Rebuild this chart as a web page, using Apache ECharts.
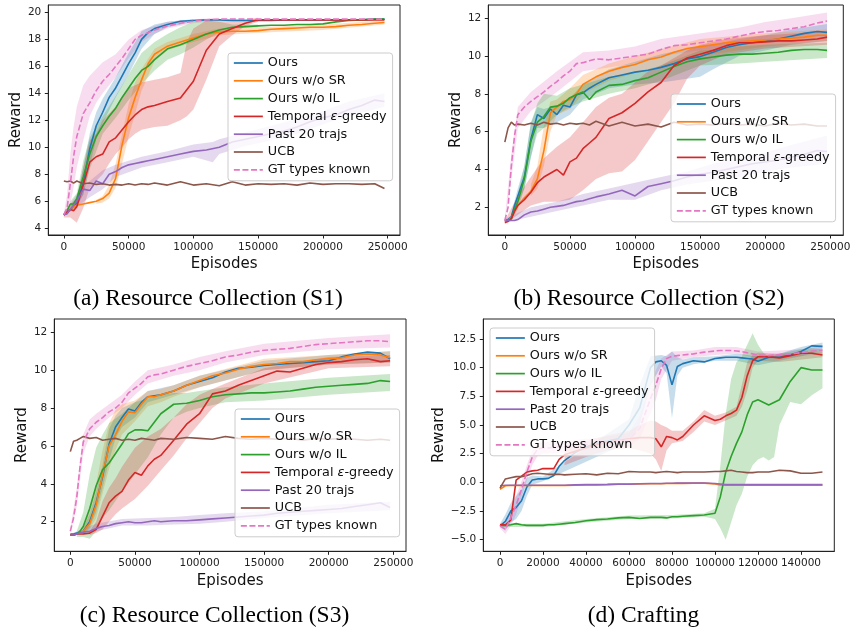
<!DOCTYPE html>
<html><head><meta charset="utf-8">
<script src="https://cdn.jsdelivr.net/npm/echarts@6/dist/echarts.min.js"></script>
<style>html,body{margin:0;padding:0;background:#fff}#c{width:850px;height:628px}</style>
</head><body><div id="c"></div>
<script>
// ---------- data ----------
const names = ['Ours','Ours w/o SR','Ours w/o IL','Temporal ε-greedy','Past 20 trajs','UCB','GT types known'];
const captions = ['(a) Resource Collection (S1)','(b) Resource Collection (S2)','(c) Resource Collection (S3)','(d) Crafting'];
const xTicksRC = [0,50000,100000,150000,200000,250000];
const xTicksD = [0,20000,40000,60000,80000,100000,120000,140000];
const yTicksA = [4,6,8,10,12,14,16,18,20];
const yTicksBC = [2,4,6,8,10,12];
const yTicksD = [-5,-2.5,0,2.5,5,7.5,10,12.5];

const xABC = [0,2500,5000,7500,10000,15000,20000,25000,30000,35000,40000,45000,50000,55000,60000,65000,70000,80000,90000,100000,110000,120000,130000,140000,150000,160000,170000,180000,190000,200000,210000,220000,230000,240000,247500];

// (a) S1
const oursA = [5.0,5.1,5.4,5.6,5.9,7.4,9.9,11.6,12.6,13.7,14.4,15.3,16.2,17.0,18.0,18.5,18.8,19.1,19.35,19.4,19.45,19.45,19.4,19.4,19.4,19.4,19.45,19.45,19.45,19.45,19.45,19.45,19.45,19.5,19.5];
const noSRA = [5.0,5.2,5.4,5.6,5.7,5.8,5.9,6.0,6.2,6.6,7.7,10.2,12.2,13.7,15.0,16.2,16.9,17.5,17.8,18.1,18.4,18.55,18.6,18.6,18.65,18.75,18.8,18.85,18.9,18.9,18.95,19.05,19.1,19.2,19.25];
const noILA = [5.0,5.3,5.8,5.8,6.2,7.8,9.5,10.8,11.6,12.3,12.9,13.7,14.4,15.1,15.7,16.0,16.5,17.3,17.6,18.0,18.4,18.7,18.9,18.95,19.0,19.05,19.05,19.1,19.1,19.15,19.3,19.4,19.45,19.5,19.5];
const tempA = [5.0,5.2,5.4,5.3,5.6,7.2,8.9,9.3,9.5,10.4,10.7,11.3,11.9,12.4,12.8,13.0,13.1,13.4,13.65,14.9,17.2,18.4,18.8,19.2,19.45,19.45,19.45,19.45,19.45,19.45,19.45,19.45,19.45,19.45,19.45];
const pastA = [5.0,5.1,5.4,5.7,6.0,6.9,6.8,7.5,7.3,8.0,8.2,8.5,8.7,8.8,8.9,9.0,9.1,9.3,9.5,9.7,9.8,10.0,10.4,10.6,10.8,11.0,11.2,11.5,11.9,12.2,12.4,12.8,13.1,13.5,13.4];
const ucbA = [7.5,7.45,7.5,7.35,7.5,7.3,7.35,7.25,7.3,7.2,7.25,7.2,7.3,7.2,7.3,7.25,7.35,7.2,7.45,7.2,7.3,7.15,7.45,7.2,7.3,7.25,7.3,7.2,7.35,7.25,7.3,7.3,7.25,7.3,6.95];
const gtA = [5.0,5.5,7.3,9.3,10.8,12.5,13.3,14.2,14.9,15.4,16.0,16.6,17.3,18.0,18.3,18.5,18.7,19.0,19.2,19.35,19.45,19.5,19.5,19.5,19.5,19.5,19.5,19.5,19.5,19.5,19.5,19.5,19.5,19.5,19.5];

// (b) S2
const oursB = [1.3,1.35,1.5,2.1,2.6,3.6,5.6,6.9,6.7,7.2,6.9,7.4,7.3,7.95,8.05,8.3,8.5,8.85,9.0,9.15,9.25,9.4,9.6,9.85,9.97,10.2,10.45,10.6,10.7,10.8,10.9,11.05,11.2,11.3,11.25];
const noSRB = [1.3,1.3,1.45,1.8,2.1,2.5,2.85,3.5,5.0,7.0,7.3,7.6,7.7,8.0,8.5,8.7,8.9,9.2,9.4,9.55,9.8,9.95,10.2,10.4,10.5,10.6,10.7,10.75,10.8,10.85,10.9,10.95,11.0,11.1,11.1];
const noILB = [1.3,1.3,1.4,1.9,2.3,3.5,5.5,6.5,6.8,7.3,7.35,7.5,7.8,7.95,8.1,7.7,8.1,8.45,8.5,8.7,8.85,9.15,9.45,9.7,9.85,9.95,10.05,10.1,10.1,10.15,10.2,10.3,10.35,10.35,10.3];
const tempB = [1.2,1.25,1.4,1.8,2.1,2.4,2.8,3.3,3.6,3.8,4.0,3.7,4.4,4.6,5.1,5.4,5.7,6.7,7.0,7.5,8.1,8.6,9.5,9.9,10.1,10.3,10.55,10.7,10.7,10.75,10.8,10.8,10.85,10.9,11.0];
const pastB = [1.3,1.3,1.3,1.3,1.35,1.6,1.75,1.8,1.9,2.0,2.05,2.1,2.2,2.3,2.35,2.45,2.55,2.7,2.9,2.6,3.1,3.25,3.4,3.6,3.75,3.85,4.0,4.15,4.3,4.4,4.5,4.65,4.8,5.0,4.95];
const ucbB = [5.45,6.2,6.5,6.35,6.4,6.35,6.45,6.35,6.5,6.4,6.45,6.35,6.45,6.4,6.45,6.35,6.55,6.3,6.5,6.3,6.4,6.25,6.5,6.35,6.4,6.35,6.45,6.35,6.4,6.3,6.45,6.35,6.4,6.3,6.3];
const gtB = [1.3,2.0,4.2,5.8,6.9,7.3,7.6,7.85,8.1,8.4,8.65,8.95,9.2,9.6,9.65,9.75,9.85,9.8,9.9,10.0,10.1,10.35,10.55,10.6,10.7,10.8,10.9,11.05,11.2,11.3,11.35,11.45,11.55,11.75,11.85];

// (c) S3
const oursC = [1.35,1.35,1.4,1.45,1.5,2.0,3.0,4.4,6.1,7.0,7.5,7.95,7.85,8.3,8.6,8.65,8.7,8.9,9.2,9.4,9.6,9.9,10.1,10.15,10.25,10.3,10.35,10.4,10.45,10.5,10.7,10.85,10.95,10.9,10.6];
const noSRC = [1.3,1.3,1.35,1.45,1.5,1.9,2.9,4.5,6.0,6.6,7.3,7.8,7.75,8.2,8.6,8.6,8.7,8.9,9.2,9.45,9.7,9.85,10.05,10.2,10.3,10.35,10.45,10.45,10.55,10.6,10.65,10.8,10.85,10.8,10.65];
const noILC = [1.3,1.3,1.35,1.5,1.75,2.7,3.9,4.75,5.1,5.6,6.1,6.65,6.85,6.85,6.8,7.25,7.7,8.2,8.25,8.4,8.6,8.7,8.75,8.8,8.8,8.85,8.9,9.0,9.1,9.15,9.2,9.25,9.3,9.45,9.4];
const tempC = [1.3,1.3,1.35,1.35,1.35,1.4,1.6,2.3,3.0,3.35,3.6,4.2,4.6,4.45,4.95,5.3,5.5,6.3,7.15,7.7,8.75,8.9,9.2,9.45,9.7,9.95,9.9,10.1,10.3,10.4,10.45,10.55,10.6,10.45,10.5];
const pastC = [1.3,1.3,1.35,1.4,1.45,1.5,1.65,1.75,1.8,1.9,1.95,2.0,1.95,1.95,2.0,2.05,2.0,2.05,2.05,2.1,2.15,2.2,2.25,2.3,2.35,2.45,2.5,2.55,2.6,2.65,2.7,2.8,2.9,3.0,2.75];
const ucbC = [5.7,6.25,6.3,6.4,6.5,6.4,6.45,6.3,6.35,6.4,6.3,6.35,6.3,6.4,6.35,6.3,6.4,6.35,6.45,6.4,6.35,6.5,6.4,6.35,6.4,6.35,6.4,6.3,6.4,6.35,6.4,6.35,6.3,6.35,6.3];
const gtC = [1.5,2.2,3.3,4.9,6.2,6.9,7.25,7.5,7.8,8.0,8.3,8.8,9.05,9.3,9.65,9.75,9.8,10.0,10.2,10.35,10.5,10.7,10.8,10.95,11.05,11.1,11.15,11.25,11.35,11.4,11.45,11.5,11.55,11.55,11.5];

// (d) Crafting
const xD = [0,2500,5000,7500,10000,12500,15000,17500,20000,22500,25000,27500,30000,35000,40000,45000,50000,55000,60000,65000,70000,72500,75000,77500,80000,82500,85000,90000,95000,100000,102500,105000,107500,110000,112500,115000,117500,120000,125000,130000,135000,140000,145000,150000];
const oursD = [-3.8,-3.4,-2.5,-2.2,-1.6,-0.4,0.2,0.3,0.3,0.35,0.6,1.4,1.9,2.6,3.1,3.4,3.6,3.8,5.0,6.5,10.0,10.5,10.6,10.2,8.5,10.1,10.35,10.6,10.5,10.8,10.85,10.9,10.9,10.9,10.85,10.8,10.75,10.55,10.9,10.9,11.1,11.4,11.9,11.85];
const noSRD = [-0.6,-0.3,-0.27,-0.27,-0.27,-0.27,-0.27,-0.27,-0.27,-0.27,-0.27,-0.27,-0.27,-0.24,-0.22,-0.22,-0.2,-0.17,-0.17,-0.14,-0.12,-0.12,-0.12,-0.1,-0.1,-0.09,-0.09,-0.07,-0.07,-0.15,-0.22,-0.25,-0.25,-0.25,-0.25,-0.25,-0.25,-0.25,-0.25,-0.25,-0.25,-0.25,-0.25,-0.25];
const noILD = [-3.75,-3.75,-3.7,-3.6,-3.7,-3.75,-3.75,-3.75,-3.75,-3.7,-3.7,-3.65,-3.6,-3.5,-3.35,-3.25,-3.2,-3.1,-3.05,-3.15,-3.05,-3.05,-3.05,-3.1,-3.0,-3.0,-2.95,-2.9,-2.85,-2.7,-1.25,0.9,2.25,3.4,4.4,5.9,7.0,7.2,6.75,7.2,8.8,10.0,9.8,9.8];
const tempD = [-3.7,-3.7,-3.3,0.2,0.55,0.9,1.0,1.05,1.2,1.2,1.2,2.0,2.4,2.7,3.0,3.3,3.5,3.65,3.8,3.9,3.9,3.8,3.1,4.0,3.9,3.7,4.0,5.0,5.8,5.4,5.5,5.8,6.0,6.3,7.4,9.3,10.6,10.95,10.95,10.85,11.05,11.25,11.25,11.1];
const pastD = [-0.3,-0.25,-0.25,-0.25,-0.25,-0.25,-0.25,-0.25,-0.25,-0.25,-0.25,-0.25,-0.25,-0.22,-0.2,-0.2,-0.18,-0.15,-0.15,-0.12,-0.1,-0.1,-0.1,-0.08,-0.08,-0.07,-0.07,-0.05,-0.05,-0.1,-0.15,-0.2,-0.2,-0.2,-0.2,-0.2,-0.2,-0.2,-0.2,-0.2,-0.2,-0.2,-0.2,-0.2];
const ucbD = [-0.5,0.3,0.4,0.5,0.5,0.6,0.75,0.8,0.75,0.7,0.7,0.7,0.65,0.7,0.75,0.65,0.8,0.75,0.95,0.9,0.9,0.85,0.9,0.95,0.9,0.85,0.9,0.9,0.9,0.95,0.95,1.0,1.05,0.95,0.9,0.85,0.85,0.9,0.9,1.05,1.0,0.8,0.8,0.9];
const gtD = [-3.8,-4.1,-3.1,-2.0,-0.6,0.9,2.2,2.9,3.0,3.0,3.05,3.1,3.1,3.2,3.3,3.4,3.5,3.6,3.7,4.7,7.3,8.5,9.9,10.8,11.0,11.05,11.1,11.2,11.35,11.45,11.5,11.5,11.5,11.45,11.4,11.3,11.2,11.1,11.05,11.15,11.2,11.3,11.45,11.5];

// shaded spread bands (m = method index)
const bandsA = [
 {m:6, x:[0,2500,5000,7500,10000,15000,20000,25000,30000,40000,50000,60000,70000,80000,100000,120000], lo:[4.9,5.0,5.8,7.0,8.5,10.5,12.3,13.3,14.0,15.2,16.6,17.8,18.4,18.8,19.2,19.4], hi:[5.1,6.5,9.5,11.5,13.0,14.6,15.3,15.8,16.3,16.9,18.0,18.7,19.0,19.3,19.5,19.6]},
 {m:0, x:[5000,10000,15000,20000,25000,30000,40000,50000,60000,70000,80000,100000], lo:[5.2,5.6,6.5,8.6,10.6,11.8,13.7,15.4,17.3,18.4,18.9,19.3], hi:[5.6,6.3,8.5,11.0,12.6,13.6,15.2,17.0,18.6,19.1,19.3,19.5]},
 {m:2, x:[5000,10000,15000,20000,30000,40000,50000,60000,70000,80000,90000,100000,110000,120000,130000,150000], lo:[5.6,5.7,6.5,8.4,11.0,12.2,13.5,14.7,15.7,16.5,16.9,17.4,18.0,18.5,18.8,18.9], hi:[6.0,6.6,9.0,10.7,12.3,13.8,15.4,17.0,17.8,18.4,18.9,19.3,19.4,19.3,19.1,19.1]},
 {m:1, x:[25000,30000,35000,40000,45000,50000,55000,60000,70000,80000,100000,120000,150000,200000,247500], lo:[5.8,5.9,6.2,7.0,8.8,10.8,12.5,14.2,16.4,17.2,17.8,18.3,18.5,18.7,19.1], hi:[6.1,6.4,7.2,8.8,11.0,13.2,14.8,15.8,17.3,17.8,18.4,18.8,18.9,19.1,19.4]},
 {m:3, x:[0,5000,10000,15000,20000,25000,30000,35000,40000,45000,50000,55000,60000,70000,80000,90000,95000,100000,110000,120000,130000,140000,150000], lo:[4.8,4.8,4.4,5.5,7.0,7.5,8.0,8.8,9.5,10.0,10.6,11.0,11.3,11.5,11.6,12.0,12.3,12.8,15.0,17.5,18.3,19.0,19.3], hi:[5.2,5.8,6.2,8.5,10.5,11.0,12.0,12.5,13.0,13.8,14.4,14.6,14.8,15.0,15.2,15.5,17.8,18.8,19.4,19.5,19.5,19.5,19.6]},
 {m:4, x:[0,10000,20000,30000,40000,60000,80000,100000,115000,120000,140000,160000,180000,200000,220000,247500], lo:[4.9,5.6,6.3,6.9,7.8,8.5,8.9,9.3,8.9,9.5,10.1,10.5,11.0,11.7,12.3,13.0], hi:[5.1,6.5,7.5,8.3,8.7,9.3,9.7,10.2,10.4,10.6,11.1,11.6,12.1,12.7,13.4,14.0]}
];
const bandsB = [
 {m:6, x:[0,5000,10000,20000,40000,60000,80000,100000,120000,140000,160000,180000,200000,220000,247500], lo:[1.2,3.5,6.2,7.1,8.1,9.2,9.4,9.6,10.0,10.2,10.4,10.6,10.8,11.0,11.3], hi:[1.4,4.8,7.3,8.1,9.2,10.2,10.3,10.5,10.9,11.1,11.3,11.5,11.8,12.0,12.3]},
 {m:0, x:[5000,10000,15000,20000,25000,30000,40000,50000,60000,80000,100000,120000,140000,150000,160000,180000,200000,220000,247500], lo:[1.3,2.2,3.0,4.6,6.2,6.2,6.5,6.9,7.7,8.3,8.5,8.6,8.8,8.9,9.3,10.0,10.3,10.6,10.8], hi:[1.7,3.0,4.2,6.5,7.3,7.2,7.4,7.8,8.5,9.3,9.7,10.1,10.4,10.5,10.6,10.9,11.1,11.4,11.7]},
 {m:1, x:[20000,25000,30000,35000,40000,50000,60000,80000,100000,150000,200000,247500], lo:[2.6,3.0,4.2,6.0,6.9,7.2,8.0,8.7,9.1,10.0,10.5,10.8], hi:[3.2,4.2,6.3,7.6,7.7,8.3,9.0,9.6,10.0,10.9,11.2,11.4]},
 {m:2, x:[5000,10000,15000,20000,25000,30000,40000,50000,60000,80000,100000,120000,150000,180000,200000,247500], lo:[1.3,1.9,3.0,4.7,5.9,6.2,6.9,7.3,7.6,8.0,8.3,8.7,9.5,9.6,9.7,9.9], hi:[1.6,2.7,4.2,6.4,7.5,8.0,7.9,8.3,8.5,8.9,9.1,9.5,10.3,10.5,10.6,10.7]},
 {m:3, x:[0,10000,20000,30000,40000,50000,60000,70000,80000,90000,100000,110000,120000,130000,140000,150000,170000,200000,247500], lo:[1.1,1.6,2.1,2.3,2.3,2.4,2.9,3.5,3.8,3.9,4.5,5.5,6.5,7.5,8.8,9.5,10.1,10.4,10.6], hi:[1.3,2.6,3.6,4.6,5.2,5.7,6.5,7.3,7.8,8.0,8.6,9.2,9.5,9.9,10.3,10.6,10.9,11.1,11.3]},
 {m:4, x:[0,20000,40000,60000,80000,100000,120000,140000,160000,180000,200000,220000,247500], lo:[1.2,1.5,1.8,2.1,2.4,2.4,2.9,3.2,3.4,3.6,3.9,4.1,4.3], hi:[1.4,2.0,2.3,2.7,3.0,3.3,3.6,3.9,4.3,4.6,4.9,5.3,5.8]}
];
const bandsC = [
 {m:6, x:[0,5000,10000,15000,20000,30000,40000,50000,60000,80000,100000,120000,150000,200000,247500], lo:[1.4,2.8,5.6,6.5,6.9,7.5,8.0,8.7,9.3,9.7,10.0,10.4,10.8,11.1,11.2], hi:[1.6,3.8,6.6,7.4,7.7,8.2,8.7,9.4,10.0,10.3,10.7,11.0,11.4,11.7,11.9]},
 {m:0, x:[10000,15000,20000,25000,30000,35000,40000,50000,60000,80000,100000,150000,200000,247500], lo:[1.35,1.7,2.5,3.8,5.2,6.4,7.0,7.5,8.3,8.7,9.1,10.0,10.3,10.4], hi:[1.7,2.4,3.6,5.0,6.9,7.6,8.0,8.3,8.9,9.2,9.7,10.5,10.8,11.0]},
 {m:1, x:[10000,15000,20000,25000,30000,35000,40000,50000,60000,70000,80000,100000,150000,200000,247500], lo:[1.3,1.6,2.2,3.5,4.8,5.8,6.6,7.3,8.1,8.3,8.6,9.1,10.0,10.3,10.4], hi:[1.7,2.6,4.0,5.8,7.2,7.9,8.2,8.4,8.9,9.0,9.2,9.7,10.6,10.8,11.0]},
 {m:2, x:[5000,10000,15000,20000,25000,30000,40000,50000,60000,70000,80000,90000,100000,120000,150000,200000,247500], lo:[1.2,1.2,1.1,1.5,2.2,2.6,3.6,4.5,5.4,6.6,7.5,7.8,8.0,8.3,8.4,8.7,8.9], hi:[1.5,2.5,4.5,5.9,6.6,7.2,7.7,8.3,8.5,8.7,8.8,8.8,8.9,9.1,9.3,9.6,9.8]},
 {m:3, x:[15000,20000,25000,30000,35000,40000,50000,60000,70000,80000,90000,100000,110000,120000,150000,200000,247500], lo:[1.3,1.4,1.6,2.0,2.4,2.7,3.2,3.9,4.7,5.5,6.4,7.2,8.0,8.5,9.3,10.1,10.2], hi:[1.5,2.0,3.1,3.8,4.3,4.9,5.9,6.5,6.9,7.5,8.2,8.7,9.0,9.3,10.1,10.7,10.8]},
 {m:4, x:[0,20000,40000,60000,80000,100000,120000,150000,200000,247500], lo:[1.25,1.5,1.8,1.8,1.85,1.9,2.0,2.2,2.45,2.6], hi:[1.35,1.9,2.15,2.2,2.25,2.35,2.45,2.55,2.9,3.05]}
];
const bandsD = [
 {m:6, x:[0,2500,5000,7500,10000,12500,15000,17500,20000,30000,40000,50000,60000,65000,70000,72500,75000,80000,90000,100000,110000,120000,130000,140000,150000], lo:[-4.0,-4.5,-3.8,-2.8,-1.3,0.2,1.5,2.3,2.5,2.6,2.8,3.0,3.1,3.8,6.0,7.2,9.0,10.6,10.9,11.1,11.2,10.8,10.8,11.0,11.2], hi:[-3.6,-3.6,-2.4,-1.2,0.1,1.5,2.8,3.4,3.5,3.6,3.8,4.0,4.3,5.8,8.6,9.8,10.8,11.4,11.5,11.8,11.8,11.4,11.5,11.6,11.9]},
 {m:0, x:[0,2500,5000,7500,10000,12500,15000,20000,60000,65000,70000,75000,77500,80000,82500,85000,90000,100000,110000,120000,130000,140000,150000], lo:[-3.9,-4.2,-3.5,-3.2,-2.5,-1.2,-0.2,0.1,3.5,5.0,8.5,10.1,9.5,5.6,9.3,10.0,10.3,10.6,10.6,10.2,10.6,11.0,11.5], hi:[-3.6,-2.8,-1.8,-1.2,-0.6,0.4,0.6,0.5,5.5,8.5,11.0,11.1,11.0,11.4,10.9,10.7,10.9,11.0,11.2,11.0,11.2,11.8,12.2]},
 {m:3, x:[30000,40000,50000,60000,65000,70000,72500,75000,77500,80000,85000,90000,95000,100000,105000,110000,112500,115000,117500,120000,130000,150000], lo:[1.5,2.2,2.8,3.0,2.8,2.5,2.0,1.0,2.8,3.4,3.6,4.4,5.3,5.0,5.4,5.8,6.6,8.0,10.0,10.6,10.5,10.9], hi:[3.0,3.6,4.1,4.5,5.0,5.4,5.3,5.0,4.8,4.5,4.5,5.3,6.3,5.8,6.1,6.6,8.5,10.5,11.1,11.3,11.2,11.4]},
 {m:2, x:[0,20000,40000,60000,80000,95000,100000,102500,105000,107500,110000,112500,115000,117500,120000,122500,125000,127500,130000,135000,140000,145000,150000], lo:[-3.9,-3.9,-3.5,-3.2,-3.15,-3.0,-3.2,-4.0,-5.0,-3.5,-2.0,-1.0,0.5,1.5,2.0,2.2,1.9,2.2,5.0,7.0,6.8,7.6,8.2], hi:[-3.6,-3.6,-3.2,-2.9,-2.85,-2.7,-2.3,1.5,6.0,9.0,10.5,11.0,12.0,13.0,12.0,11.3,11.0,11.0,11.2,11.4,11.6,11.7,11.6]}
];

// ---------- styling / layout ----------
const colors = ['#1f77b4','#ff7f0e','#2ca02c','#d62728','#9467bd','#8c564b','#e377c2'];
const panelData = [
 {x:xABC, lines:[oursA,noSRA,noILA,tempA,pastA,ucbA,gtA], bands:bandsA},
 {x:xABC, lines:[oursB,noSRB,noILB,tempB,pastB,ucbB,gtB], bands:bandsB},
 {x:xABC, lines:[oursC,noSRC,noILC,tempC,pastC,ucbC,gtC], bands:bandsC},
 {x:xD, lines:[oursD,noSRD,noILD,tempD,pastD,ucbD,gtD], bands:bandsD}
];
const layout = [
 {grid:{left:48.3, top:5, width:351.7, height:230}, xMin:-12000, xMax:259500, yMin:3.5, yMax:20.55, xTicks:xTicksRC, yTicks:yTicksA, yGap:25, dec:0, legend:{left:228, top:53}, cap:{x:208, y:299}},
 {grid:{left:488.3, top:5, width:355, height:230}, xMin:-12700, xMax:260000, yMin:0.535, yMax:12.70, xTicks:xTicksRC, yTicks:yTicksBC, yGap:23, dec:0, legend:{left:671, top:94}, cap:{x:649, y:299}},
 {grid:{left:54.3, top:319, width:351.7, height:232.3}, xMin:-12400, xMax:259800, yMin:0.44, yMax:12.70, xTicks:xTicksRC, yTicks:yTicksBC, yGap:25, dec:0, legend:{left:235, top:409}, cap:{x:214.5, y:616}},
 {grid:{left:483.3, top:319, width:351, height:232.3}, xMin:-7770, xMax:155500, yMin:-6.01, yMax:14.24, xTicks:xTicksD, yTicks:yTicksD, yGap:36, dec:1, legend:{left:490, top:328}, cap:{x:643.5, y:616}}
];

function rgba(hex, a) {
  const n = parseInt(hex.slice(1), 16);
  return 'rgba(' + ((n >> 16) & 255) + ',' + ((n >> 8) & 255) + ',' + (n & 255) + ',' + a + ')';
}
const fontSans = 'DejaVu Sans';
const series = [];
panelData.forEach((p, k) => {
  p.bands.forEach((b, j) => {
    const rows = b.x.map((xv, i) => [xv, b.lo[i], b.hi[i]]);
    series.push({
      type:'custom', name:'band_' + k + '_' + j, xAxisIndex:k, yAxisIndex:k, silent:true, z:1, clip:true, animation:false,
      encode:{x:0, y:[1,2]}, data:rows,
      renderItem:(params, api) => {
        if (params.dataIndex !== 0) return null;
        const up = rows.map(r => api.coord([r[0], r[2]]));
        const dn = rows.slice().reverse().map(r => api.coord([r[0], r[1]]));
        return {type:'polygon', shape:{points:up.concat(dn)}, style:{fill:rgba(colors[b.m], 0.25)}};
      }
    });
  });
  p.lines.forEach((ys, m) => {
    series.push({
      type:'line', name:names[m], xAxisIndex:k, yAxisIndex:k, symbol:'none', showSymbol:false, z:2, animation:false,
      data:p.x.map((xv, i) => [xv, ys[i]]),
      lineStyle:{color:colors[m], width:1.6, type: m === 6 ? [6, 2.6] : 'solid'},
      itemStyle:{color:colors[m]}
    });
  });
});

const option = {
  backgroundColor:'#ffffff',
  animation:false,
  grid: layout.map(l => Object.assign({show:true, borderColor:'#222', borderWidth:1, backgroundColor:'transparent', containLabel:false, outerBoundsMode:'none'}, l.grid)),
  xAxis: layout.map((l, k) => ({
    type:'value', gridIndex:k, min:l.xMin, max:l.xMax,
    splitLine:{show:false},
    axisLine:{show:true, onZero:false, lineStyle:{color:'#222', width:1}},
    axisTick:{show:true, customValues:l.xTicks, length:3.5, lineStyle:{color:'#222', width:1}},
    axisLabel:{customValues:l.xTicks, margin:6.5, fontFamily:fontSans, fontSize:10.5, color:'#222', formatter:v => String(v)},
    name:'Episodes', nameLocation:'middle', nameGap:22,
    nameTextStyle:{fontFamily:fontSans, fontSize:15, color:'#111'}
  })),
  yAxis: layout.map((l, k) => ({
    type:'value', gridIndex:k, min:l.yMin, max:l.yMax,
    splitLine:{show:false},
    axisLine:{show:true, onZero:false, lineStyle:{color:'#222', width:1}},
    axisTick:{show:true, customValues:l.yTicks, length:3.5, lineStyle:{color:'#222', width:1}},
    axisLabel:{customValues:l.yTicks, margin:7, fontFamily:fontSans, fontSize:10.5, color:'#222',
      formatter:v => l.dec ? ((v < 0 ? '\u2212' : '') + Math.abs(v).toFixed(1)) : String(v)},
    name:'Reward', nameLocation:'middle', nameGap:l.yGap,
    nameTextStyle:{fontFamily:fontSans, fontSize:15, color:'#111'}
  })),
  legend: layout.map(l => ({
    orient:'vertical', left:l.legend.left, top:l.legend.top, data:names.slice(),
    itemWidth:29, itemHeight:14, itemGap:4.8, padding:[3.5,6,4.5,5],
    backgroundColor:'rgba(255,255,255,0.8)', borderColor:'#cccccc', borderWidth:1, borderRadius:3,
    selectedMode:false,
    itemStyle:{opacity:0, borderWidth:0},
    lineStyle:{width:1.7},
    textStyle:{fontFamily:fontSans, fontSize:12.8, color:'#111',
      rich:{i:{fontFamily:fontSans, fontStyle:'italic', fontSize:12.8, color:'#111'}}},
    formatter: n => n.replace('ε', '{i|ε}')
  })),
  graphic: layout.map((l, k) => ({
    type:'text', x:l.cap.x, y:l.cap.y, silent:true,
    style:{text:captions[k], fontFamily:'Liberation Serif', fontSize:23.5, fill:'#000', align:'center', verticalAlign:'middle'}
  })),
  series: series
};
const chart = echarts.init(document.getElementById('c'));
chart.setOption(option);
</script>
</body></html>
